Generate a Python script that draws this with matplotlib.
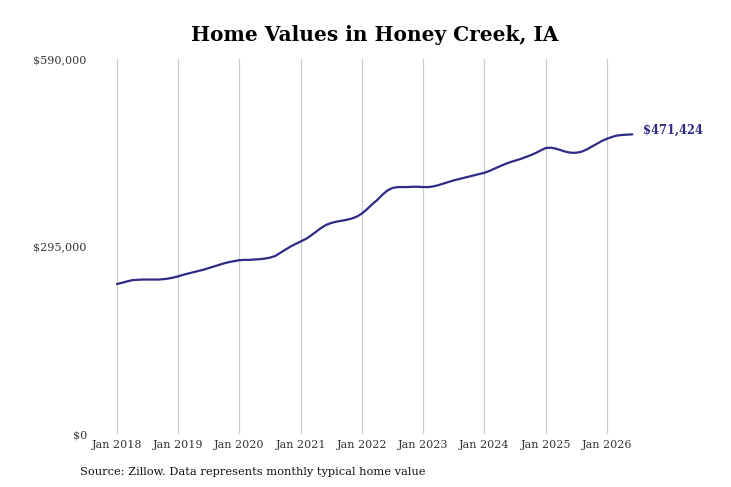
import matplotlib
matplotlib.use("Agg")
import matplotlib.pyplot as plt
import matplotlib.dates as mdates
import pandas as pd

dates = pd.date_range("2018-01-01", "2026-06-01", freq="MS")
values = [
    # 2018
    236000, 238000, 240000, 242000, 242500, 243000, 243000, 243000, 243000, 243500, 244500, 246000,
    # 2019
    248000, 250500, 252500, 254500, 256500, 258500, 261000, 263500, 266000, 268500, 270500, 272000,
    # 2020
    273500, 274000, 274000, 274500, 275000, 276000, 277500, 280000, 285000, 290000, 295000, 299000,
    # 2021
    303000, 307000, 312000, 318000, 324000, 329000, 332000, 334000, 335500, 337000, 339000, 342000,
    # 2022
    347000, 354000, 361000, 368000, 376000, 383000, 387000, 388500, 388500, 388500, 389000, 389000,
    # 2023
    388500, 388500, 389500, 391500, 394000, 396500, 399000, 401000, 403000, 405000, 407000, 409000,
    # 2024
    411000, 414000, 417500, 421000, 424500, 427500, 430000, 432500, 435500, 438500, 442000, 446000,
    # 2025
    450000, 450500, 449000, 446500, 444000, 442500, 442500, 444000, 447500, 452000, 456500, 461000,
    # 2026
    464500, 467500, 469500, 470500, 471000, 471424,
]
tick_years = list(range(2018, 2027))
tick_labels = [f"Jan {y}" for y in tick_years]
y_ticks = [0, 295000, 590000]
y_tick_labels = ["$0", "$295,000", "$590,000"]

title = "Home Values in Honey Creek, IA"
source = "Source: Zillow. Data represents monthly typical home value"
line_color = "#2e2a85"

W, H = 731, 487
fig = plt.figure(figsize=(W / 100, H / 100), dpi=100)
ax_left, ax_right, ax_top, ax_bottom = 100, 660, 59, 434
ax = fig.add_axes([ax_left / W, (H - ax_bottom) / H,
                   (ax_right - ax_left) / W, (ax_bottom - ax_top) / H])

ax.plot(dates, values, color=line_color, linewidth=1.6, solid_capstyle="round")

# x scale: Jan 2018 at px 117, 61.25 px per year
px_per_day = 61.25 / 365.25
x0 = mdates.date2num(pd.Timestamp("2018-01-01"))
ax.set_xlim(x0 - (117 - ax_left) / px_per_day, x0 + (ax_right - 117) / px_per_day)
ax.set_ylim(0, 590000)

ax.set_xticks([pd.Timestamp(f"{y}-01-01") for y in tick_years])
ax.set_xticklabels(tick_labels)
ax.set_yticks(y_ticks)
ax.set_yticklabels(y_tick_labels)

for s in ax.spines.values():
    s.set_visible(False)
ax.grid(axis="x", color="#cccccc", linewidth=0.9)
ax.grid(axis="y", visible=False)
ax.tick_params(axis="x", length=0, pad=4, labelsize=8, labelcolor="#333333")
ax.tick_params(axis="y", length=0, pad=9.5, labelsize=8, labelcolor="#333333")
for lab in ax.get_xticklabels() + ax.get_yticklabels():
    lab.set_family("DejaVu Serif")

ax.annotate(f"${values[-1]:,}", xy=(dates[-1], values[-1]), xytext=(8, 3),
            textcoords="offset points", color=line_color, fontsize=8.3,
            fontweight="bold", family="DejaVu Serif", va="center", ha="left")

fig.text(375 / W, 1 - 35 / H, title, ha="center", va="center",
         fontsize=14.5, fontweight="bold", family="DejaVu Serif")
fig.text(80 / W, 1 - 472 / H, source, ha="left", va="center",
         fontsize=8.2, family="DejaVu Serif", color="#111111")

fig.savefig("out.png", dpi=100)
